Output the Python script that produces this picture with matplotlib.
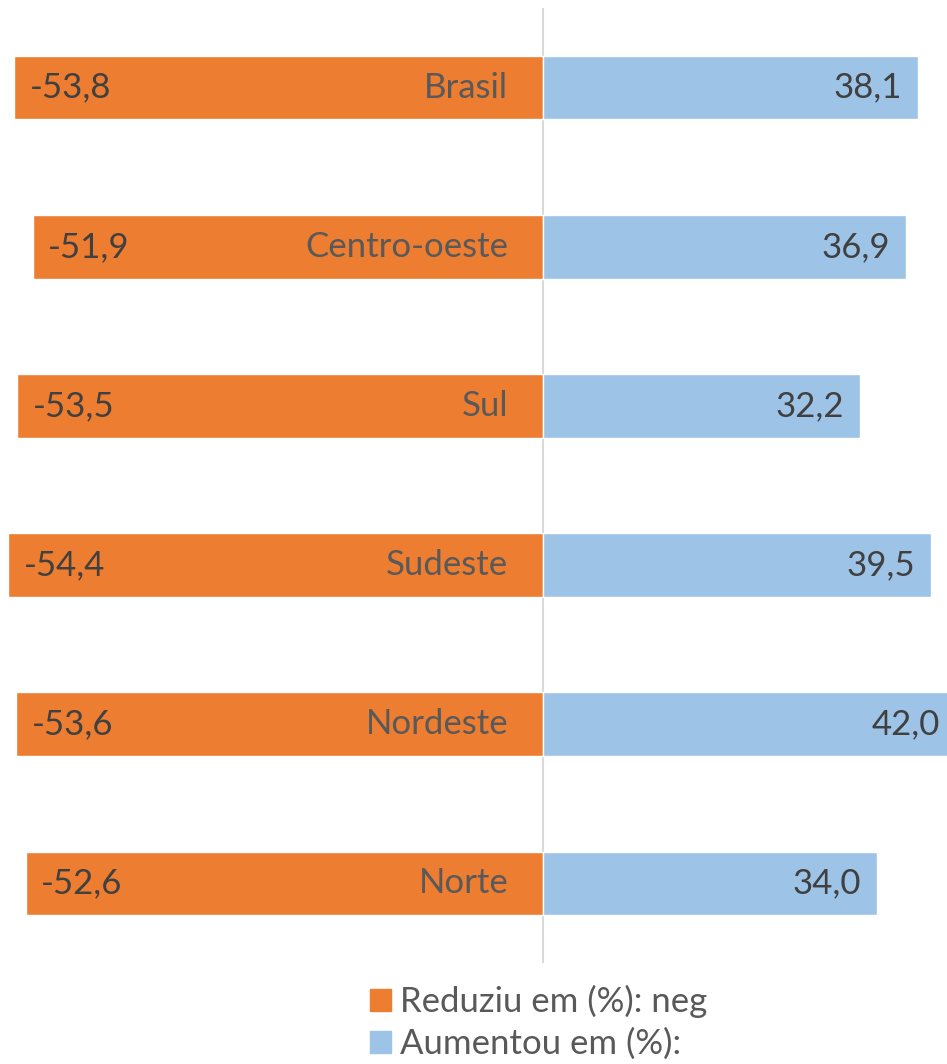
"""
Reduziu / Aumentou por regiao - barras divergentes
"""

import matplotlib
matplotlib.use('Agg')
import matplotlib.pyplot as plt
from matplotlib.patches import Patch
import numpy as np

regioes = ['Brasil', 'Centro-oeste', 'Sul', 'Sudeste', 'Nordeste', 'Norte']
reduziu = [-53.8, -51.9, -53.5, -54.4, -53.6, -52.6]
aumentou = [38.1, 36.9, 32.2, 39.5, 42.0, 34.0]

LARANJA = '#ed7d31'
AZUL = '#9dc3e6'
CINZA = '#595959'
ESCURO = '#404040'

plt.rcParams['font.family'] = ['Lato', 'DejaVu Sans']

def fmt(v):
    return f'{v:.1f}'.replace('.', ',')

def main():
    fig = plt.figure(figsize=(9.47, 10.64), dpi=100)
    ax = fig.add_axes([0, 1 - 963 / 1064, 1, (963 - 8) / 1064])

    y = np.arange(len(regioes))
    ax.barh(y, reduziu, height=0.4, color=LARANJA, edgecolor='white', linewidth=1)
    ax.barh(y, aumentou, height=0.4, color=AZUL, edgecolor='white', linewidth=1)
    ax.axvline(0, color='#d9d9d9', linewidth=1.5, zorder=0)

    for i in range(len(regioes)):
        ax.annotate(fmt(reduziu[i]), (reduziu[i], y[i]), xytext=(11, 0),
                    textcoords='offset points', ha='left', va='center',
                    fontsize=25, color=ESCURO, annotation_clip=False)
        ax.annotate(regioes[i], (0, y[i]), xytext=(-25, 0),
                    textcoords='offset points', ha='right', va='center',
                    fontsize=25, color=CINZA, annotation_clip=False)
        ax.annotate(fmt(aumentou[i]), (aumentou[i], y[i]), xytext=(-11.5, 0),
                    textcoords='offset points', ha='right', va='center',
                    fontsize=25, color=ESCURO, annotation_clip=False)

    ax.set_xlim(-55.25, 41.1)
    ax.set_ylim(len(regioes) - 0.5, -0.5)
    ax.axis('off')

    handles = [Patch(color=LARANJA, label='Reduziu em (%): neg'),
               Patch(color=AZUL, label='Aumentou em (%):')]
    fig.legend(handles=handles, loc='upper left',
               bbox_to_anchor=(370 / 947, 1 - 985 / 1064),
               frameon=False, fontsize=25, labelcolor=CINZA,
               handlelength=0.6, handleheight=0.6, handletextpad=0.25,
               labelspacing=0.28, borderpad=0, borderaxespad=0)

    fig.savefig('out.png', dpi=100)

if __name__ == "__main__":
    main()
